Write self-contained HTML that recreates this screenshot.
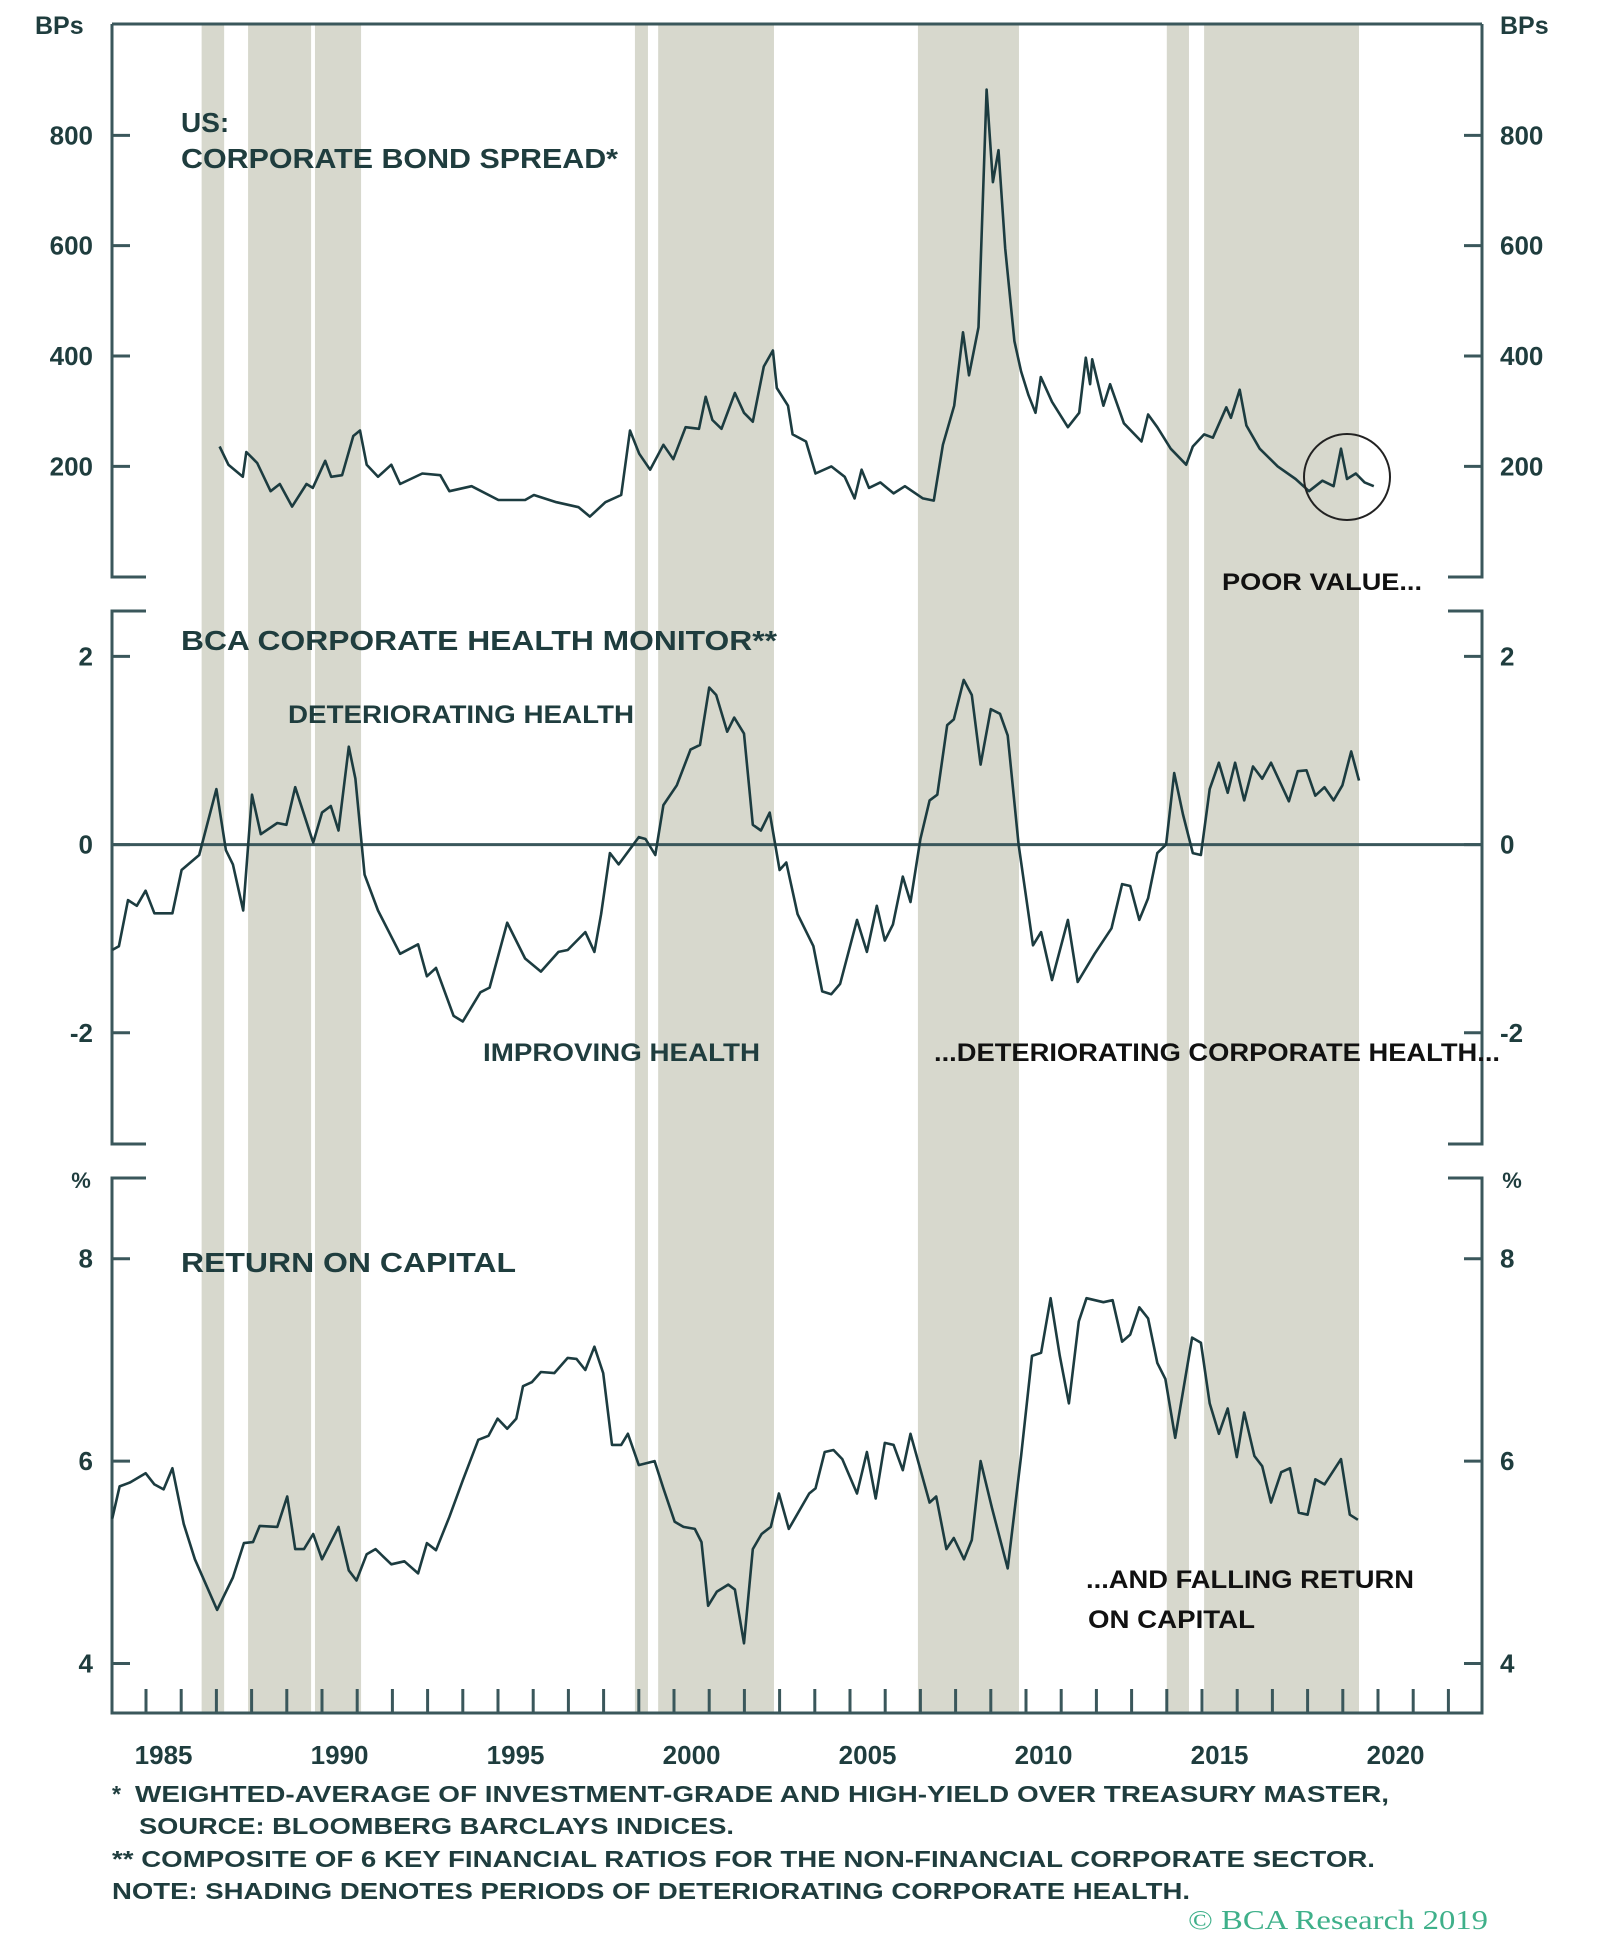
<!DOCTYPE html>
<html><head><meta charset="utf-8"><style>
html,body{margin:0;padding:0;background:#fff;}
svg{display:block;font-family:"Liberation Sans",sans-serif;font-weight:bold;}
</style></head><body>
<svg id="chart" width="1600" height="1960" viewBox="0 0 1600 1960">
<g id="shade"></g>
<g id="axes"></g>
<g id="series"></g>
<g id="labels" fill="#1f3d3e">
<text x="35" y="34" font-size="25">BPs</text>
<text x="1500" y="34" font-size="25">BPs</text>
<text x="181" y="132" font-size="28">US:</text>
<text x="181" y="168" font-size="28" textLength="437" lengthAdjust="spacingAndGlyphs">CORPORATE BOND SPREAD*</text>
<text x="1222" y="590" font-size="24" textLength="200" lengthAdjust="spacingAndGlyphs" fill="#111">POOR VALUE...</text>
<text x="181" y="650" font-size="28" textLength="596" lengthAdjust="spacingAndGlyphs">BCA CORPORATE HEALTH MONITOR**</text>
<text x="288" y="723" font-size="25" textLength="346" lengthAdjust="spacingAndGlyphs">DETERIORATING HEALTH</text>
<text x="483" y="1061" font-size="25" textLength="277" lengthAdjust="spacingAndGlyphs">IMPROVING HEALTH</text>
<text x="934" y="1061" font-size="25" textLength="566" lengthAdjust="spacingAndGlyphs" fill="#111">...DETERIORATING CORPORATE HEALTH...</text>
<text x="181" y="1272" font-size="28" textLength="335" lengthAdjust="spacingAndGlyphs">RETURN ON CAPITAL</text>
<text x="1086" y="1588" font-size="25" textLength="328" lengthAdjust="spacingAndGlyphs" fill="#111">...AND FALLING RETURN</text>
<text x="1088" y="1628" font-size="25" textLength="167" lengthAdjust="spacingAndGlyphs" fill="#111">ON CAPITAL</text>
<text x="81" y="1188" font-size="22" text-anchor="middle">%</text>
<text x="1512" y="1188" font-size="22" text-anchor="middle">%</text>
<text x="112" y="1802" font-size="23">*</text>
<text x="135" y="1802" font-size="23" textLength="1254" lengthAdjust="spacingAndGlyphs">WEIGHTED-AVERAGE OF INVESTMENT-GRADE AND HIGH-YIELD OVER TREASURY MASTER,</text>
<text x="139" y="1834" font-size="23" textLength="595" lengthAdjust="spacingAndGlyphs">SOURCE: BLOOMBERG BARCLAYS INDICES.</text>
<text x="112" y="1867" font-size="23" textLength="1263" lengthAdjust="spacingAndGlyphs">** COMPOSITE OF 6 KEY FINANCIAL RATIOS FOR THE NON-FINANCIAL CORPORATE SECTOR.</text>
<text x="112" y="1899" font-size="23" textLength="1078" lengthAdjust="spacingAndGlyphs">NOTE: SHADING DENOTES PERIODS OF DETERIORATING CORPORATE HEALTH.</text>
<text x="1188" y="1929" font-size="27" font-weight="normal" font-family="'Liberation Serif',serif" fill="#3fb08a" textLength="300" lengthAdjust="spacingAndGlyphs">© BCA Research 2019</text>
</g>
</svg>
<script>
// ---- data ----
const shadeStart = [1986.58, 1987.90, 1989.80, 1998.89, 1999.55, 2006.93, 2014.00, 2015.06];
const shadeEnd   = [1987.22, 1989.69, 1991.11, 1999.26, 2002.84, 2009.80, 2014.63, 2019.46];

const spreadYears = [1987.09,1987.34,1987.75,1987.85,1988.16,1988.54,1988.80,1989.15,1989.56,1989.74,1990.09,1990.26,1990.57,1990.89,1991.08,1991.27,1991.59,1991.97,1992.22,1992.85,1993.36,1993.62,1994.25,1995.01,1995.77,1996.02,1996.66,1997.29,1997.61,1998.05,1998.50,1998.75,1999.01,1999.32,1999.70,1999.98,2000.33,2000.71,2000.90,2001.09,2001.35,2001.73,2001.99,2002.24,2002.55,2002.81,2002.92,2003.24,2003.37,2003.75,2004.02,2004.47,2004.85,2005.13,2005.33,2005.54,2005.86,2006.24,2006.56,2007.07,2007.38,2007.64,2007.96,2008.21,2008.38,2008.65,2008.88,2009.06,2009.22,2009.41,2009.67,2009.86,2010.07,2010.27,2010.42,2010.74,2011.19,2011.51,2011.70,2011.82,2011.88,2012.20,2012.39,2012.78,2013.28,2013.47,2013.73,2014.11,2014.55,2014.74,2015.06,2015.31,2015.69,2015.82,2016.07,2016.26,2016.64,2017.15,2017.66,2018.04,2018.42,2018.74,2018.95,2019.12,2019.37,2019.62,2019.88];
const spreadValues = [236,203,181,226,206,155,168,127,168,161,210,181,184,255,265,203,181,203,168,187,184,155,164,139,139,148,135,126,109,135,148,265,223,194,239,213,271,268,326,284,268,333,297,281,381,410,342,310,258,245,187,200,181,142,194,161,171,151,164,142,138,239,310,443,365,452,883,715,773,595,427,372,329,297,362,317,271,297,397,349,394,310,349,278,245,294,271,232,203,236,258,252,307,288,339,274,232,200,177,155,174,164,232,177,187,171,164];

const healthYears = [1984.04,1984.23,1984.49,1984.74,1984.99,1985.24,1985.75,1986.01,1986.51,1987.00,1987.27,1987.47,1987.76,1988.01,1988.26,1988.73,1988.99,1989.24,1989.75,1990.00,1990.25,1990.47,1990.76,1990.95,1991.21,1991.59,1992.22,1992.73,1992.98,1993.24,1993.74,1994.00,1994.50,1994.76,1995.26,1995.77,1996.22,1996.72,1996.98,1997.48,1997.74,1997.93,1998.18,1998.43,1999.00,1999.19,1999.47,1999.70,2000.08,2000.47,2000.74,2001.00,2001.20,2001.51,2001.71,2001.99,2002.24,2002.47,2002.72,2003.00,2003.19,2003.51,2003.96,2004.21,2004.47,2004.72,2005.20,2005.48,2005.76,2005.99,2006.22,2006.50,2006.72,2007.00,2007.26,2007.48,2007.76,2007.95,2008.23,2008.46,2008.71,2009.00,2009.26,2009.48,2009.79,2010.20,2010.43,2010.74,2011.19,2011.47,2011.95,2012.43,2012.73,2012.96,2013.22,2013.47,2013.73,2013.98,2014.21,2014.46,2014.74,2014.97,2015.22,2015.48,2015.73,2015.94,2016.20,2016.45,2016.71,2016.96,2017.47,2017.72,2017.97,2018.22,2018.48,2018.74,2018.99,2019.24,2019.46];
const healthValues = [-1.12,-1.08,-0.59,-0.65,-0.49,-0.73,-0.73,-0.27,-0.11,0.59,-0.06,-0.21,-0.70,0.53,0.11,0.23,0.21,0.61,0.02,0.34,0.41,0.15,1.04,0.70,-0.32,-0.70,-1.16,-1.06,-1.40,-1.31,-1.82,-1.88,-1.57,-1.52,-0.83,-1.21,-1.35,-1.14,-1.12,-0.93,-1.14,-0.74,-0.09,-0.21,0.08,0.06,-0.11,0.42,0.63,1.01,1.06,1.67,1.59,1.20,1.35,1.18,0.21,0.15,0.34,-0.27,-0.19,-0.74,-1.08,-1.56,-1.59,-1.48,-0.80,-1.14,-0.65,-1.02,-0.85,-0.34,-0.61,0.06,0.47,0.53,1.27,1.33,1.75,1.59,0.85,1.44,1.39,1.16,0.00,-1.07,-0.93,-1.44,-0.80,-1.46,-1.16,-0.89,-0.42,-0.44,-0.80,-0.57,-0.09,0.00,0.76,0.32,-0.09,-0.11,0.59,0.87,0.55,0.87,0.47,0.83,0.70,0.87,0.46,0.78,0.79,0.52,0.61,0.47,0.63,0.99,0.68];

const rocYears = [1984.04,1984.25,1984.55,1984.99,1985.24,1985.50,1985.75,1986.07,1986.39,1987.02,1987.47,1987.78,1988.04,1988.23,1988.73,1989.01,1989.24,1989.49,1989.75,1990.00,1990.47,1990.76,1990.98,1991.27,1991.52,1991.97,1992.34,1992.73,1992.98,1993.24,1993.62,1994.00,1994.44,1994.73,1994.99,1995.26,1995.52,1995.71,1995.96,1996.22,1996.60,1996.98,1997.23,1997.48,1997.74,1997.99,1998.24,1998.50,1998.69,1999.00,1999.45,1999.70,2000.02,2000.27,2000.59,2000.78,2000.97,2001.22,2001.54,2001.73,2001.99,2002.24,2002.49,2002.75,2002.98,2003.26,2003.84,2004.02,2004.28,2004.53,2004.78,2005.20,2005.48,2005.73,2005.99,2006.24,2006.50,2006.72,2007.26,2007.45,2007.74,2007.95,2008.24,2008.46,2008.71,2009.03,2009.48,2009.86,2010.17,2010.43,2010.70,2010.96,2011.22,2011.50,2011.72,2012.20,2012.46,2012.73,2012.96,2013.22,2013.47,2013.73,2013.96,2014.24,2014.72,2014.97,2015.22,2015.48,2015.73,2015.99,2016.20,2016.49,2016.71,2016.96,2017.25,2017.50,2017.75,2018.00,2018.22,2018.48,2018.95,2019.20,2019.43];
const rocValues = [5.43,5.75,5.79,5.88,5.77,5.72,5.93,5.38,5.03,4.53,4.85,5.19,5.20,5.36,5.35,5.65,5.13,5.13,5.28,5.03,5.35,4.92,4.82,5.08,5.13,4.98,5.01,4.89,5.19,5.12,5.45,5.81,6.21,6.25,6.42,6.32,6.42,6.74,6.78,6.88,6.87,7.02,7.01,6.90,7.13,6.87,6.16,6.16,6.27,5.96,6.00,5.73,5.40,5.35,5.33,5.20,4.57,4.71,4.78,4.73,4.20,5.13,5.28,5.35,5.68,5.33,5.68,5.73,6.09,6.11,6.02,5.68,6.09,5.63,6.18,6.16,5.91,6.27,5.59,5.65,5.13,5.24,5.03,5.22,6.00,5.54,4.94,6.05,7.04,7.07,7.61,7.04,6.57,7.38,7.61,7.57,7.59,7.18,7.25,7.52,7.41,6.97,6.81,6.23,7.22,7.17,6.57,6.27,6.52,6.04,6.48,6.05,5.95,5.59,5.89,5.93,5.49,5.47,5.82,5.77,6.02,5.47,5.42];

const spreadTicks = [200, 400, 600, 800];
const healthTicks = [-2, 0, 2];
const rocTicks = [4, 6, 8];
const xLabels = [1985, 1990, 1995, 2000, 2005, 2010, 2015, 2020];

// ---- scales ----
const X0 = 112, X1 = 1482;
const xs = y => 146 + (y - 1985) * 35.2;
const ySpread = v => 576.7 - v * 0.5517;
const yHealth = v => 844.6 - v * 94.1;
const yRoc = v => 1461.1 - (v - 6) * 101.2;

const NS = 'http://www.w3.org/2000/svg';
const AX = '#3a575b', LINE = '#1c3c40', TXT = '#1f3d3e';
function mk(tag, attrs, parent) {
  const e = document.createElementNS(NS, tag);
  for (const k in attrs) e.setAttribute(k, attrs[k]);
  parent.appendChild(e);
  return e;
}
const gS = document.getElementById('shade'), gA = document.getElementById('axes'), gL = document.getElementById('series'), gT = document.getElementById('labels');

shadeStart.forEach((s, i) => {
  const r = mk('rect', {x: xs(s), y: 25, width: xs(shadeEnd[i]) - xs(s), height: 1688, fill: '#d7d8cd'}, gS);
  
  
});

function ln(x1, y1, x2, y2, w, name) {
  const l = mk('line', {x1, y1, x2, y2, stroke: AX, 'stroke-width': w}, gA);
  
  
  return l;
}
ln(X0, 24, X1, 24, 3, 'top-border');
const panels = [[24, 577], [611, 1144], [1178, 1713]];
panels.forEach((p, i) => {
  ln(X0, p[0], X0, p[1], 3, 'left-axis-panel-' + (i + 1));
  ln(X1, p[0], X1, p[1], 3, 'right-axis-panel-' + (i + 1));
  if (i > 0) { ln(X0 - 1.5, p[0], 146, p[0], 3, 'left-top-stub'); ln(1448, p[0], X1 + 1.5, p[0], 3, 'right-top-stub'); }
  if (i < 2) { ln(X0 - 1.5, p[1], 146, p[1], 3, 'left-bottom-stub'); ln(1448, p[1], X1 + 1.5, p[1], 3, 'right-bottom-stub'); }
});
ln(X0 - 1.5, 1713, X1 + 1.5, 1713, 3, 'x-axis');
ln(X0, yHealth(0), X1, yHealth(0), 3, 'zero-line');

for (let yr = 1985; yr <= 2022; yr++) ln(xs(yr), 1689, xs(yr), 1713, 3, 'x-tick');
xLabels.forEach(yr => {
  const t = mk('text', {x: xs(yr + 0.5), y: 1764, 'font-size': 26, 'text-anchor': 'middle', fill: TXT}, gT);
  t.textContent = yr;
  
  
});

function yTicks(ticks, fn, panel) {
  ticks.forEach(v => {
    const y = fn(v);
    ln(X0, y, X0 + 18, y, 3, 'left-y-tick');
    ln(X1 - 18, y, X1, y, 3, 'right-y-tick');
    const a = mk('text', {x: 93, y: y + 9, 'font-size': 26, 'text-anchor': 'end', fill: TXT}, gT);
    a.textContent = v;
    
    
    const b = mk('text', {x: 1500, y: y + 9, 'font-size': 26, fill: TXT}, gT);
    b.textContent = v;
    
    
  });
}
yTicks(spreadTicks, ySpread, 'spread');
yTicks(healthTicks, yHealth, 'health');
yTicks(rocTicks, yRoc, 'roc');

function series(xsArr, vs, fy, name) {
  const d = xsArr.map((yr, i) => (i ? 'L' : 'M') + xs(yr).toFixed(1) + ' ' + fy(vs[i]).toFixed(1)).join(' ');
  const p = mk('path', {d, fill: 'none', stroke: LINE, 'stroke-width': 2.6, 'stroke-linejoin': 'round'}, gL);
  
  
}
series(spreadYears, spreadValues, ySpread, 'corporate-bond-spread-line');
series(healthYears, healthValues, yHealth, 'corporate-health-monitor-line');
series(rocYears, rocValues, yRoc, 'return-on-capital-line');

const c = mk('circle', {cx: 1347, cy: 477, r: 43, fill: 'none', stroke: '#222', 'stroke-width': 2}, gL);


</script>
</body></html>
